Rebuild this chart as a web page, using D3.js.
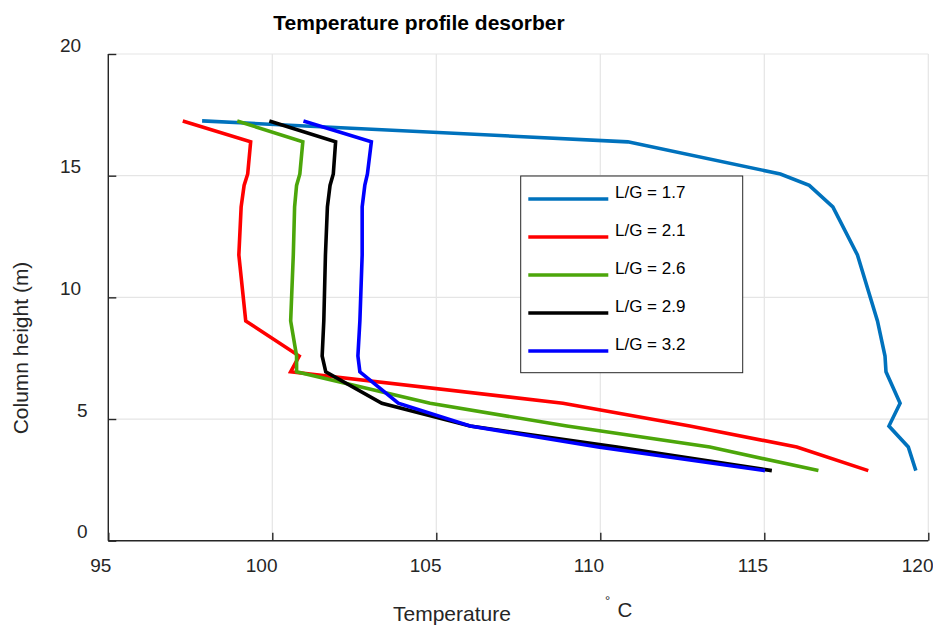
<!DOCTYPE html>
<html>
<head>
<meta charset="utf-8">
<script src="https://cdn.jsdelivr.net/npm/d3@7"></script>
<style>
  html, body { margin: 0; padding: 0; background: #fff; }
  svg { display: block; font-family: "Liberation Sans", Arial, sans-serif; }
</style>
</head>
<body>
<svg id="chart" width="933" height="625"></svg>
<script>
// ---- data ----
const heights = [17.25, 16.39, 15.07, 14.6, 13.72, 11.74, 9.03, 7.59, 6.94, 5.65, 4.71, 3.85, 2.88];
const tempLG17 = [97.86, 110.84, 115.49, 116.37, 117.09, 117.84, 118.45, 118.68, 118.71, 119.14, 118.80, 119.39, 119.62];
const tempLG21 = [97.27, 99.34, 99.25, 99.14, 99.05, 98.98, 99.19, 100.82, 100.56, 108.86, 112.73, 115.99, 118.17];
const tempLG26 = [98.93, 100.93, 100.84, 100.74, 100.68, 100.64, 100.56, 100.74, 100.74, 104.81, 108.98, 113.34, 116.65];
const tempLG29 = [99.91, 101.93, 101.86, 101.76, 101.68, 101.62, 101.57, 101.52, 101.63, 103.34, 106.03, 110.51, 115.23];
const tempLG32 = [100.95, 103.02, 102.90, 102.82, 102.74, 102.74, 102.67, 102.61, 102.67, 103.84, 106.03, 109.93, 115.02];
const seriesNames = ["L/G = 1.7", "L/G = 2.1", "L/G = 2.6", "L/G = 2.9", "L/G = 3.2"];
const seriesColors = ["#0072BD", "#FF0000", "#4CA60A", "#000000", "#0000FF"];
const xTicks = [95, 100, 105, 110, 115, 120];
const yTicks = [0, 5, 10, 15, 20];
const titleText = "Temperature profile desorber";
const xLabel = "Temperature";
const yLabel = "Column height (m)";

const seriesTemps = [tempLG17, tempLG21, tempLG26, tempLG29, tempLG32];

// ---- layout ----
const svg = d3.select("#chart");
const x = d3.scaleLinear().domain([95, 120]).range([108.3, 928.3]);
const y = d3.scaleLinear().domain([0, 20]).range([540.7, 54]);
const axisColor = "#262626";
const gridColor = "#e5e5e5";

// grid
svg.append("g").selectAll("line").data(xTicks).join("line")
  .attr("x1", d => x(d)).attr("x2", d => x(d))
  .attr("y1", y(0)).attr("y2", y(20))
  .attr("stroke", gridColor).attr("stroke-width", 1.2);
svg.append("g").selectAll("line").data(yTicks).join("line")
  .attr("x1", x(95)).attr("x2", x(120))
  .attr("y1", d => y(d)).attr("y2", d => y(d))
  .attr("stroke", gridColor).attr("stroke-width", 1.2);

// axes (inward ticks, labels drawn separately)
const xAxis = d3.axisBottom(x).tickValues(xTicks).tickSize(-8).tickFormat("");
const yAxis = d3.axisLeft(y).tickValues(yTicks).tickSize(-8).tickFormat("");
const gx = svg.append("g").attr("transform", `translate(0,${y(0)})`).call(xAxis);
const gy = svg.append("g").attr("transform", `translate(${x(95)},0)`).call(yAxis);
[gx, gy].forEach(g => {
  g.select(".domain").attr("stroke", axisColor).attr("stroke-width", 1.4);
  g.selectAll(".tick line").attr("stroke", axisColor).attr("stroke-width", 1.4);
});
gx.select(".domain").attr("d", `M${x(95)},0H${x(120)}`);
gy.select(".domain").attr("d", `M0,${y(0)}V${y(20)}`);

// tick labels
svg.append("g").selectAll("text").data(xTicks).join("text")
  .attr("x", d => x(d) - 8.5 * String(d).length - 1)
  .attr("y", 571.5)
  .attr("font-size", 19).attr("fill", axisColor)
  .text(d => d);
svg.append("g").selectAll("text").data(yTicks).join("text")
  .attr("x", d => 94 - 17 * String(d).length)
  .attr("y", d => y(d) - 2.5)
  .attr("font-size", 19).attr("fill", axisColor)
  .text(d => d);

// lines
const line = d3.line().x(d => x(d[0])).y(d => y(d[1]));
seriesTemps.forEach((temps, i) => {
  svg.append("path")
    .datum(temps.map((t, j) => [t, heights[j]]))
    .attr("d", line)
    .attr("fill", "none")
    .attr("stroke", seriesColors[i])
    .attr("stroke-width", 3.6)
    .attr("stroke-linejoin", "miter");
});

// title and labels
svg.append("text").attr("x", 419).attr("y", 30)
  .attr("text-anchor", "middle").attr("font-weight", "bold")
  .attr("font-size", 21).attr("fill", "#000").text(titleText);
svg.append("text").attr("x", 393).attr("y", 621)
  .attr("font-size", 21).attr("fill", axisColor).text(xLabel);
svg.append("text").attr("x", 605).attr("y", 605)
  .attr("font-size", 13).attr("fill", axisColor).text("°");
svg.append("text").attr("x", 617.5).attr("y", 617.3)
  .attr("font-size", 20.5).attr("fill", axisColor).text("C");
svg.append("text")
  .attr("transform", "translate(28,348) rotate(-90)")
  .attr("text-anchor", "middle")
  .attr("font-size", 21).attr("fill", axisColor).text(yLabel);

// legend
const lg = svg.append("g");
lg.append("rect").attr("x", 520.7).attr("y", 176).attr("width", 222).attr("height", 196.7)
  .attr("fill", "#fff").attr("stroke", axisColor).attr("stroke-width", 1);
const items = lg.selectAll("g.item").data(seriesNames).join("g")
  .attr("transform", (d, i) => `translate(0,${199 + 38 * i})`);
items.append("line").attr("x1", 528.3).attr("x2", 608.3).attr("y1", 0).attr("y2", 0)
  .attr("stroke", (d, i) => seriesColors[i]).attr("stroke-width", 3.6);
items.append("text").attr("x", 615).attr("y", -1)
  .attr("font-size", 17).attr("fill", "#000").text(d => d);
</script>
</body>
</html>
